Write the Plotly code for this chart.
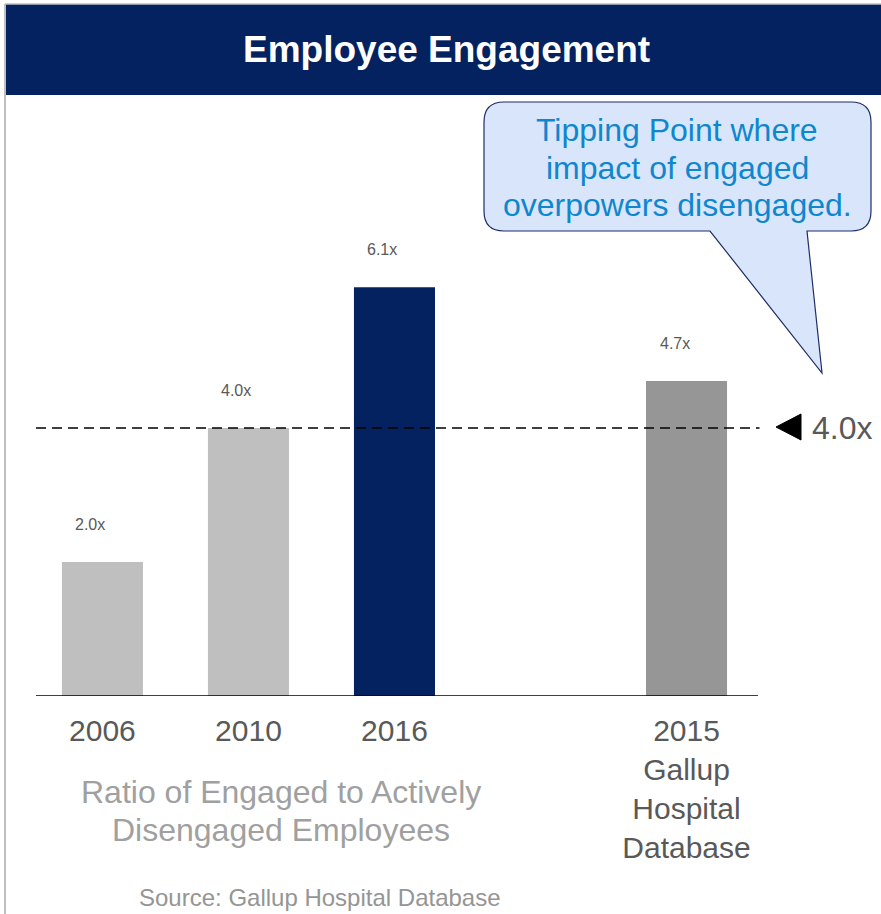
import plotly.graph_objects as go

# ---- data ----
categories = ["2006", "2010", "2016", "2015<br>Gallup<br>Hospital<br>Database"]
axis_order = ["2006", "2010", "2016", " ", "2015<br>Gallup<br>Hospital<br>Database"]
values = [2.0, 4.0, 6.1, 4.7]
value_labels = ["2.0x", "4.0x", "6.1x", "4.7x"]
bar_colors = ["#BFBFBF", "#BFBFBF", "#052260", "#969696"]
threshold = 4.0
threshold_label = "4.0x"
title = "Employee Engagement"
callout_lines = ["Tipping Point where", "impact of engaged", "overpowers disengaged."]
subtitle_lines = ["Ratio of Engaged to Actively", "Disengaged Employees"]
source = "Source: Gallup Hospital Database"

W, H = 881, 914
def px(x): return x / W
def py(y): return 1 - y / H

FONT = "Liberation Sans, Arial, sans-serif"

fig = go.Figure()
fig.add_trace(go.Bar(
    x=categories, y=values, marker=dict(color=bar_colors, line=dict(width=0)),
    width=0.555, showlegend=False, hoverinfo="skip"))

shapes = []
# header band
shapes.append(dict(type="rect", xref="paper", yref="paper", x0=px(5), x1=1, y0=py(95), y1=py(4),
                   fillcolor="#052260", line=dict(width=0), layer="below"))
# frame borders
shapes.append(dict(type="line", xref="paper", yref="paper", x0=px(5), x1=px(5), y0=0, y1=py(4),
                   line=dict(color="#BFBFBF", width=2)))
shapes.append(dict(type="line", xref="paper", yref="paper", x0=px(5), x1=1, y0=py(4), y1=py(4),
                   line=dict(color="#BFBFBF", width=1.5)))
# baseline
shapes.append(dict(type="line", xref="x", yref="y", x0=-0.455, x1=4.49, y0=0, y1=0,
                   line=dict(color="black", width=1.5)))
# threshold dashed line
shapes.append(dict(type="line", xref="x", yref="y", x0=-0.455, x1=4.5, y0=threshold, y1=threshold,
                   line=dict(color="black", width=1.5, dash="10px,6px")))
# triangle marker
tri = "M {} {} L {} {} L {} {} Z".format(px(776), py(427), px(801), py(414), px(801), py(440))
shapes.append(dict(type="path", xref="paper", yref="paper", path=tri,
                   fillcolor="black", line=dict(color="black", width=1)))
# callout bubble
l, r, t, b, rad = 484, 871, 102, 231, 20
def P(x, y): return "{:.5f} {:.5f}".format(px(x), py(y))
path = ("M " + P(l + rad, t) + " L " + P(r - rad, t) + " Q " + P(r, t) + " " + P(r, t + rad) +
        " L " + P(r, b - rad) + " Q " + P(r, b) + " " + P(r - rad, b) +
        " L " + P(807, b) + " L " + P(822, 373) + " L " + P(710, b) +
        " L " + P(l + rad, b) + " Q " + P(l, b) + " " + P(l, b - rad) +
        " L " + P(l, t + rad) + " Q " + P(l, t) + " " + P(l + rad, t) + " Z")
shapes.append(dict(type="path", xref="paper", yref="paper", path=path,
                   fillcolor="#D9E5FB", line=dict(color="#1F2D66", width=1.2)))

def ann(**kw):
    kw.setdefault("showarrow", False)
    kw.setdefault("xanchor", "center")
    kw.setdefault("yanchor", "middle")
    return kw

annotations = []
annotations.append(ann(text="<b>" + title + "</b>", xref="paper", yref="paper", x=px(447), y=py(50),
                       font=dict(family=FONT, size=37, color="white")))
for c, v, t in zip(categories, values, value_labels):
    annotations.append(ann(text=t, x=axis_order.index(c), y=v, xref="x", yref="y", yshift=38, xshift=-12,
                           font=dict(family=FONT, size=16, color="#595959")))
annotations.append(ann(text=threshold_label, xref="paper", yref="y", x=px(810), y=threshold,
                       xanchor="left", font=dict(family=FONT, size=32, color="#595959")))
for i, line in enumerate(callout_lines):
    annotations.append(ann(text=line, xref="paper", yref="paper", x=px(677), y=py(130 + 37.5 * i),
                           font=dict(family=FONT, size=32, color="#0E87CF")))
for i, line in enumerate(subtitle_lines):
    annotations.append(ann(text=line, xref="paper", yref="paper", x=px(281), y=py(792 + 38 * i),
                           font=dict(family=FONT, size=32, color="#A0A0A0")))
annotations.append(ann(text=source, xref="paper", yref="paper", x=px(320), y=py(897),
                       font=dict(family=FONT, size=24, color="#959595")))

fig.update_layout(
    width=W, height=H, margin=dict(l=0, r=0, t=0, b=0),
    paper_bgcolor="white", plot_bgcolor="white",
    shapes=shapes, annotations=annotations,
    xaxis=dict(domain=[px(36), 1], type="category", categoryorder="array", categoryarray=axis_order,
               range=[-0.455, 5.332], showgrid=False, zeroline=False, showline=False,
               ticks="", ticklabelstandoff=14, fixedrange=True,
               tickfont=dict(family=FONT, size=30, color="#595959")),
    yaxis=dict(domain=[py(696), py(95)], range=[0, 8.97], showgrid=False, zeroline=False,
               showline=False, showticklabels=False, ticks="", fixedrange=True),
)
fig.write_html("out.html")
